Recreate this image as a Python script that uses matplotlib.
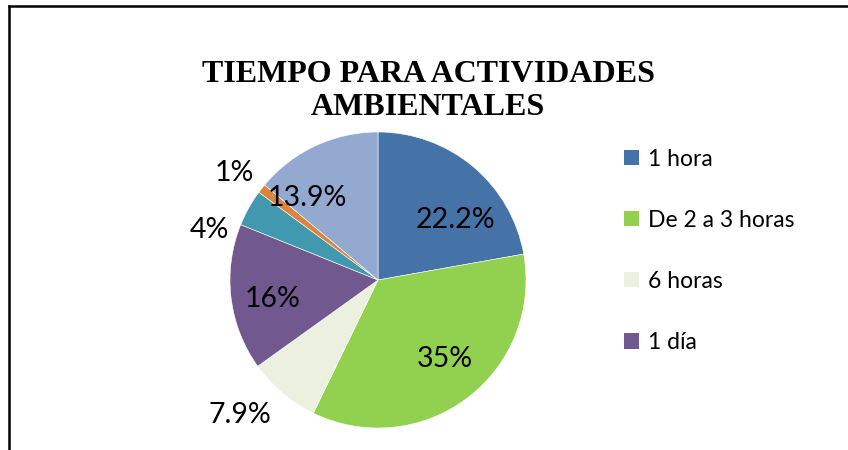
import matplotlib.pyplot as plt
import numpy as np
from matplotlib.lines import Line2D
from matplotlib.patches import Patch

categories = ["1 hora", "De 2 a 3 horas", "6 horas", "1 día", "1 semana", "1 mes", "Nunca"]
values = [22.2, 35, 7.9, 16, 4, 1, 13.9]
pct_labels = ["22.2%", "35%", "7.9%", "16%", "4%", "1%", "13.9%"]
colors = ["#4572A7", "#92D050", "#EBF1DE", "#71588F", "#4198AF", "#DB843D", "#93A9CF"]

# label placement (radius as fraction of pie radius, angle tweak in degrees)
label_r = [0.67, 0.69, 1.29, 0.72, 1.19, 1.22, 0.74]
label_dang = [-11, 4, -6, 2, 12, 1, 15]

fig = plt.figure(figsize=(8.48, 4.5), dpi=100)
W, H = 848, 450

# chart border (only left and top visible)
fig.add_artist(Line2D([9 / W, 9 / W], [0, 1 - 6 / H], transform=fig.transFigure,
                      color="black", lw=1.8))
fig.add_artist(Line2D([9 / W, 1], [1 - 6 / H, 1 - 6 / H], transform=fig.transFigure,
                      color="black", lw=1.8))

cx, cy, r = 378, 450 - 280, 148
ax = fig.add_axes([(cx - r) / W, (cy - r) / H, 2 * r / W, 2 * r / H])
wedges, _ = ax.pie(values, colors=colors, startangle=90, counterclock=False,
                   radius=1, wedgeprops=dict(edgecolor="white", linewidth=0.4))
ax.set_xlim(-1, 1)
ax.set_ylim(-1, 1)
ax.set_aspect("equal")
ax.axis("off")

for w, lab, rr, da in zip(wedges, pct_labels, label_r, label_dang):
    ang = np.deg2rad((w.theta1 + w.theta2) / 2 + da)
    ax.text(rr * np.cos(ang), rr * np.sin(ang) - 0.015, lab, ha="center", va="center",
            fontsize=20.5, family="Lato", color="black", clip_on=False)

fig.text(428 / W, 1 - 91 / H, "TIEMPO PARA ACTIVIDADES\nAMBIENTALES", ha="center", va="center",
         fontsize=23, fontweight="bold", family="Liberation Serif", linespacing=1.22)

handles = [Patch(facecolor=c) for c in colors[:4]]
fig.legend(handles, categories[:4], loc="upper left", bbox_to_anchor=(603 / W, 1 - 128 / H),
           frameon=False, prop=dict(family="Lato", size=16.5), handlelength=0.65,
           handleheight=0.65, handletextpad=0.4, labelspacing=1.75)

fig.savefig("out.png", dpi=100)
